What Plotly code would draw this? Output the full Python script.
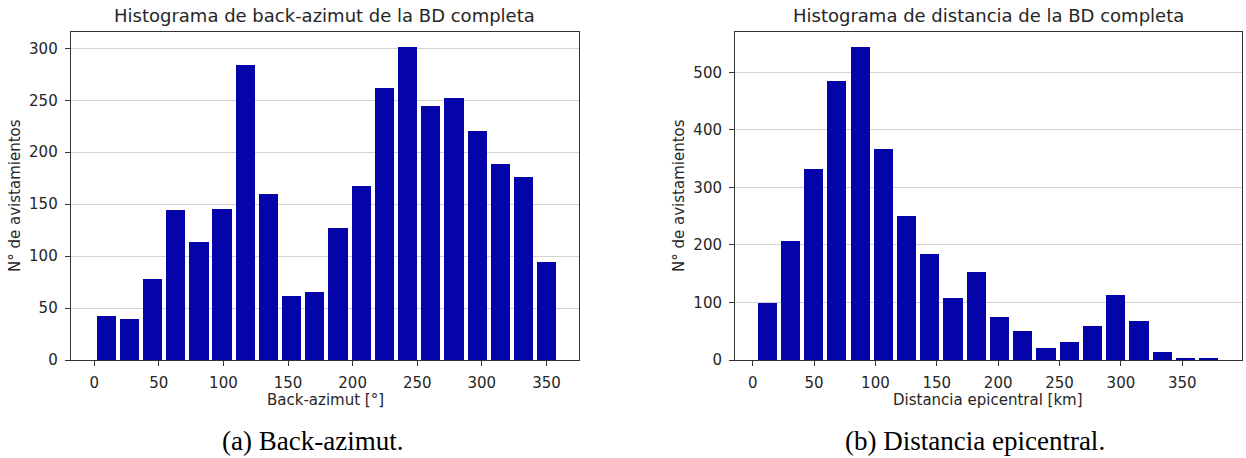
import plotly.graph_objects as go

# ---------------- data ----------------
az_centers = [9.0, 26.9, 44.9, 62.8, 80.8, 98.7, 116.7, 134.6, 152.6, 170.5,
              188.5, 206.4, 224.4, 242.3, 260.3, 278.2, 296.2, 314.1, 332.1, 350.0]
az_counts = [43, 40, 78, 145, 114, 146, 284, 160, 62, 66,
             127, 168, 262, 302, 245, 252, 221, 189, 176, 95]

dist_centers = [11.8, 30.7, 49.6, 68.6, 87.5, 106.4, 125.4, 144.3, 163.2, 182.2,
                201.1, 220.0, 239.0, 257.9, 276.8, 295.8, 314.7, 333.6, 352.6, 371.5]
dist_counts = [100, 208, 333, 485, 545, 367, 251, 185, 109, 154,
               75, 51, 22, 32, 59, 114, 69, 14, 4, 4]

x_ticks = [0, 50, 100, 150, 200, 250, 300, 350]
az_yticks = [0, 50, 100, 150, 200, 250, 300]
dist_yticks = [0, 100, 200, 300, 400, 500]

title_left = "Histograma de back-azimut de la BD completa"
title_right = "Histograma de distancia de la BD completa"
xlabel_left = "Back-azimut [°]"
xlabel_right = "Distancia epicentral [km]"
ylabel = "N° de avistamientos"
caption_left = "(a) Back-azimut."
caption_right = "(b) Distancia epicentral."

# ---------------- styling ----------------
W, H = 1246, 458
BAR = "#0404A8"
TXT = "#262626"
SANS = "DejaVu Sans"

fig = go.Figure()
fig.add_trace(go.Bar(x=az_centers, y=az_counts, width=14.9, marker_color=BAR,
                     marker_line_width=0, xaxis="x", yaxis="y", showlegend=False))
fig.add_trace(go.Bar(x=dist_centers, y=dist_counts, width=15.6, marker_color=BAR,
                     marker_line_width=0, xaxis="x2", yaxis="y2", showlegend=False))

def px_x(v):
    return v / W

def px_y(v):
    return (H - v) / H

ydom = [px_y(360), px_y(31.7)]

axis_common = dict(
    showline=True, linecolor="#333333", linewidth=1, mirror=True,
    ticks="outside", ticklen=5, tickwidth=1, tickcolor="#333333",
    tickfont=dict(family=SANS, size=15, color=TXT),
    zeroline=False, automargin=False,
)

fig.update_layout(
    width=W, height=H, autosize=False,
    margin=dict(l=0, r=0, t=0, b=0, pad=0),
    paper_bgcolor="white", plot_bgcolor="white",
    bargap=0,
    xaxis=dict(domain=[px_x(70.7), px_x(579)], range=[-18.2, 375.2],
               tickvals=x_ticks, showgrid=False, anchor="y",
               ticklabelstandoff=4, **axis_common),
    yaxis=dict(domain=ydom, range=[0, 316], tickvals=az_yticks,
               showgrid=True, gridcolor="#d3d3d3", gridwidth=1, anchor="x",
               ticklabelstandoff=4, **axis_common),
    xaxis2=dict(domain=[px_x(735), px_x(1241.7)], range=[-14.4, 398.4],
                tickvals=x_ticks, showgrid=False, anchor="y2",
                ticklabelstandoff=4, **axis_common),
    yaxis2=dict(domain=ydom, range=[0, 570.6], tickvals=dist_yticks,
                showgrid=True, gridcolor="#d3d3d3", gridwidth=1, anchor="x2",
                ticklabelstandoff=4, **axis_common),
)

ann = []
def add_text(text, x, y, size, family=SANS, color=TXT, angle=0):
    ann.append(dict(text=text, x=px_x(x), y=px_y(y), xref="paper", yref="paper",
                    xanchor="center", yanchor="middle", showarrow=False,
                    textangle=angle, font=dict(family=family, size=size, color=color)))

add_text(title_left, 324.9, 15.5, 18)
add_text(title_right, 988.4, 15.5, 18)
add_text(xlabel_left, 325.3, 400, 15)
add_text(xlabel_right, 988.4, 400, 15)
add_text(ylabel, 15, 196, 15, angle=-90)
add_text(ylabel, 679, 196, 15, angle=-90)
add_text(caption_left, 312, 440.5, 27, family="Liberation Serif", color="black")
add_text(caption_right, 975, 440.5, 27, family="Liberation Serif", color="black")
fig.update_layout(annotations=ann)

page_fix = (
    "var h=document.documentElement,b=document.body;"
    "h.style.margin='0';h.style.padding='0';h.style.overflow='hidden';"
    "b.style.margin='0';b.style.padding='0';b.style.overflow='hidden';"
)

fig.write_html("out.html", config={"displayModeBar": False},
               post_script=page_fix)
